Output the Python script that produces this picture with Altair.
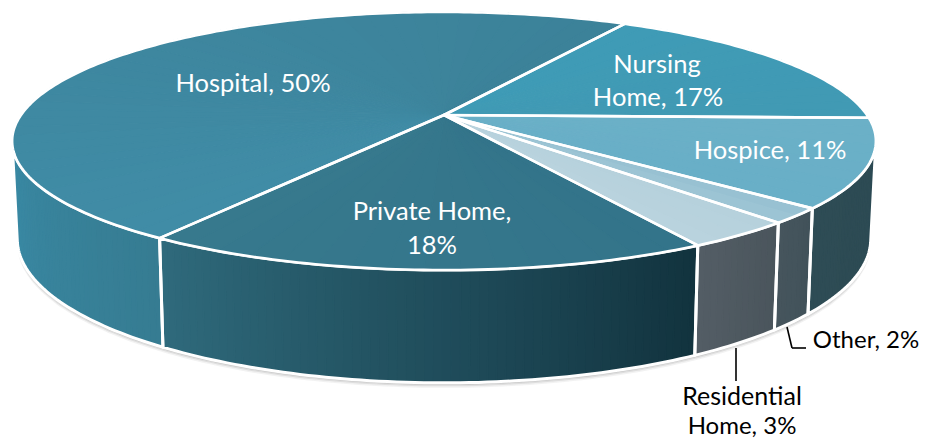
import math
import altair as alt

# Slice shares, clockwise from the Nursing Home / Hospital boundary
categories = ["Nursing Home", "Hospice", "Other", "Residential Home", "Private Home", "Hospital"]
shares = [17.0, 11.0, 1.9, 3.5, 17.7, 48.9]
start_angle = 30.1

top_colors = [
    ["#3f9bb6", "#419ab4"],
    ["#6bb0c7", "#69afc7"],
    ["#98c1d2", "#9cc4d4"],
    ["#b6d1dc", "#b9d3de"],
    ["#33748a", "#37798d"],
    ["#408ca6", "#3c8299"],
]
wall_colors = [
    None,
    ["#2c4a53", "#2e4c55"],
    ["#41525a", "#46555d"],
    ["#4a555c", "#535d65"],
    ["#12333e", "#2f6a7c"],
    ["#367c92", "#3a8aa5"],
]

label_rows = [
    ("Hospital, 50%", 253, 84, "white", 25.5),
    ("Nursing", 657, 65, "white", 25.5),
    ("Home, 17%", 658, 98, "white", 25.5),
    ("Hospice, 11%", 770, 151, "white", 25.5),
    ("Private Home,", 432, 212, "white", 25.5),
    ("18%", 432, 246, "white", 25.5),
    ("Other, 2%", 866, 341, "black", 24),
    ("Residential", 742, 397, "black", 25),
    ("Home, 3%", 742, 427, "black", 24),
]
leader_segments = [
    (736, 348, 736, 381),
    (787, 327, 792, 348),
    (792, 348, 806, 348),
]

M = 8  # page margin
CX, K = 444 - M, 0.2016
TOP = dict(y0=115 - M, a=423, b=123.8)
BOT = dict(y0=210 - M, a=418, b=138)
VIS_A, VIS_B = 102.0, 258.0


def pt(theta, d, extra=0.0):
    t = math.radians(theta)
    u, v = math.sin(t), -math.cos(t)
    w = 1 - K * v
    return [CX + d["a"] * u / w, d["y0"] + extra + d["b"] * v / w]


def steps(a, b, per=1.0):
    n = max(2, int(abs(b - a) / per) + 1)
    return [a + (b - a) * i / n for i in range(n + 1)]


def shape(ring, color="#000000"):
    return {"type": "Feature", "properties": {"color": color},
            "geometry": {"type": "Polygon", "coordinates": [ring + [ring[0]]]}}


def mix(c, f):
    a = [int(c[0][i:i + 2], 16) for i in (1, 3, 5)]
    b = [int(c[1][i:i + 2], 16) for i in (1, 3, 5)]
    return "#%02x%02x%02x" % tuple(round(p + (q - p) * f) for p, q in zip(a, b))


proj = dict(type="identity", scale=1, translate=[0, 0])


def geo(features, **mark):
    data = alt.Data(values=features, format=alt.DataFormat(type="json"))
    return alt.Chart(data).mark_geoshape(**mark).project(**proj)


def painted(features):
    return geo(features, strokeWidth=1.2).encode(
        fill=alt.Fill("properties.color:N", scale=None),
        stroke=alt.Stroke("properties.color:N", scale=None),
    )


edges = [start_angle]
for s in shares:
    edges.append(edges[-1] + s * 3.6)

layers = []

# soft shadow under the wall
for extra, op in [(5, 0.08), (3.5, 0.12), (2, 0.18)]:
    ring = [pt(t, TOP) for t in steps(VIS_A, VIS_B)]
    ring += [pt(t, BOT, extra) for t in steps(VIS_B, VIS_A)]
    layers.append(geo([shape(ring)], fill="#555555", fillOpacity=op, strokeWidth=0))

# walls: painted strips, then white outlines
wall_strips, wall_outlines = [], []
for i, cols in enumerate(wall_colors):
    if cols is None:
        continue
    a, b = max(edges[i], VIS_A), min(edges[i + 1], VIS_B)
    ts = steps(a, b, 1.0)
    for j in range(len(ts) - 1):
        p, q = ts[j], ts[j + 1]
        ring = [pt(p, TOP), pt(q, TOP), pt(q, BOT), pt(p, BOT)]
        wall_strips.append(shape(ring, mix(cols, j / max(1, len(ts) - 2))))
    wall_outlines.append(shape([pt(t, TOP) for t in steps(a, b)] + [pt(t, BOT) for t in steps(b, a)]))
layers.append(painted(wall_strips))
layers.append(geo(wall_outlines, filled=False, stroke="white", strokeWidth=3, strokeJoin="round"))

# top faces: painted wedges, then white outlines
top_strips, top_outlines = [], []
apex = [CX, TOP["y0"]]
for i, cols in enumerate(top_colors):
    ts = steps(edges[i], edges[i + 1], 4.0)
    for j in range(len(ts) - 1):
        ring = [apex] + [pt(t, TOP) for t in steps(ts[j], ts[j + 1])]
        top_strips.append(shape(ring, mix(cols, j / max(1, len(ts) - 2))))
    top_outlines.append(shape([apex] + [pt(t, TOP) for t in steps(edges[i], edges[i + 1])]))
layers.append(painted(top_strips))
layers.append(geo(top_outlines, filled=False, stroke="white", strokeWidth=2.6, strokeJoin="round"))

# leader lines
for x1, y1, x2, y2 in leader_segments:
    layers.append(alt.Chart(alt.Data(values=[{}])).mark_rule(color="black", strokeWidth=1.6).encode(
        x=alt.value(x1 - M), x2=alt.value(x2 - M), y=alt.value(y1 - M), y2=alt.value(y2 - M)))

# labels
for text, x, y, color, size in label_rows:
    layers.append(alt.Chart(alt.Data(values=[{}])).mark_text(
        text=text, font="Lato", fontSize=size, color=color, align="center", baseline="middle"
    ).encode(x=alt.value(x - M), y=alt.value(y - M)))

chart = alt.layer(*layers).properties(
    width=912, height=432, padding=0, autosize=alt.AutoSizeParams(type="none")
).configure_view(stroke=None)

chart.save("out.html", embed_options={"renderer": "svg", "actions": False})
